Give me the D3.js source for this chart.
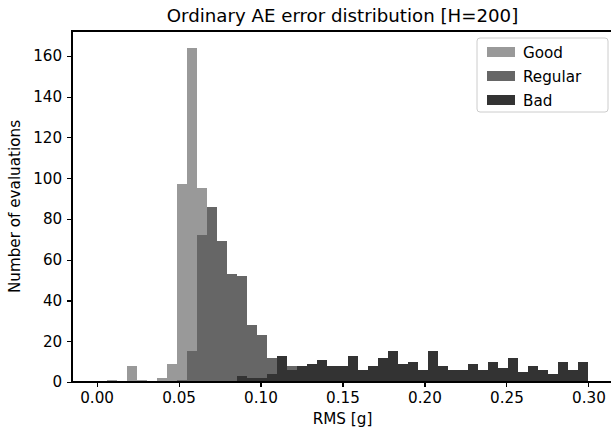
<!DOCTYPE html>
<html lang="en">
<head>
    <meta charset="UTF-8">
    <title>Ordinary AE error distribution</title>
    <script src="https://d3js.org/d3.v7.min.js"></script>
    <style>
        body { margin: 0; background: #fff; }
        text { font-family: "DejaVu Sans", sans-serif; fill: #000; }
        .axis path, .axis line { stroke: #000; shape-rendering: crispEdges; }
    </style>
</head>
<body>
    <svg width="611" height="435"></svg>

    <script>
        // Histogram bins: 49 equal bins between 0 and 0.3
        const binCount = 49;
        const binMax = 0.3;

        // Counts per bin, drawn in this order
        const goodCounts = [0, 1, 0, 8, 1, 0, 2, 9, 97, 164, 95, 0, 0, 0, 0, 0, 0, 0, 0, 0,
                            0, 0, 0, 0, 0, 0, 0, 0, 0, 0, 0, 0, 0, 0, 0, 0, 0, 0, 0, 0,
                            0, 0, 0, 0, 0, 0, 0, 0, 0];
        const regularCounts = [0, 0, 0, 0, 0, 0, 0, 0, 1, 15, 72, 86, 69, 53, 52, 28, 23, 12, 0, 8,
                               0, 0, 0, 0, 0, 0, 0, 0, 0, 0, 0, 0, 0, 0, 0, 0, 0, 0, 0, 0,
                               0, 0, 0, 0, 0, 0, 0, 0, 0];
        const badCounts = [0, 0, 0, 0, 0, 0, 0, 0, 0, 0, 0, 0, 0, 0, 3, 2, 2, 4, 13, 6,
                           8, 9, 11, 8, 8, 13, 6, 8, 12, 15, 9, 10, 6, 15, 8, 6, 6, 9, 6, 10,
                           7, 12, 5, 8, 6, 4, 10, 6, 10];

        const seriesNames = ["Good", "Regular", "Bad"];
        const seriesColors = ["#999999", "#666666", "#333333"];
        const seriesCounts = [goodCounts, regularCounts, badCounts];

        const xTicks = [0, 0.05, 0.10, 0.15, 0.20, 0.25, 0.30];
        const yTicks = [0, 20, 40, 60, 80, 100, 120, 140, 160];

        const edges = d3.range(binCount + 1).map(i => i * binMax / binCount);

        // Layout
        const margin = { top: 31, left: 72, right: 613, bottom: 382 };
        const fontSize = 15.2;

        const xScale = d3.scaleLinear()
            .domain([-0.015, 0.315])
            .range([margin.left, margin.right]);

        const yMax = d3.max(seriesCounts.flat()) * 1.05;
        const yScale = d3.scaleLinear()
            .domain([0, yMax])
            .range([margin.bottom, margin.top]);

        const svg = d3.select("svg");

        // Bars
        seriesCounts.forEach((counts, s) => {
            const bins = counts.map((c, i) => ({ x0: edges[i], x1: edges[i + 1], c }))
                .filter(d => d.c > 0);
            svg.append("g")
                .attr("shape-rendering", "crispEdges")
                .selectAll("rect")
                .data(bins)
                .join("rect")
                .attr("x", d => xScale(d.x0))
                .attr("width", d => xScale(d.x1) - xScale(d.x0))
                .attr("y", d => yScale(d.c))
                .attr("height", d => yScale(0) - yScale(d.c))
                .attr("fill", seriesColors[s]);
        });

        // Axes
        const xAxis = svg.append("g")
            .attr("class", "axis")
            .attr("transform", `translate(0, ${margin.bottom})`)
            .call(d3.axisBottom(xScale).tickValues(xTicks).tickFormat(d3.format(".2f"))
                .tickSize(4.9).tickPadding(4.9).tickSizeOuter(0));
        const yAxis = svg.append("g")
            .attr("class", "axis")
            .attr("transform", `translate(${margin.left}, 0)`)
            .call(d3.axisLeft(yScale).tickValues(yTicks)
                .tickSize(4.9).tickPadding(4.9).tickSizeOuter(0));
        [xAxis, yAxis].forEach(a => {
            a.select(".domain").remove();
            a.selectAll("line").attr("stroke-width", 1.1);
            a.selectAll("text").style("font-size", fontSize + "px")
                .style("font-family", "DejaVu Sans, sans-serif").attr("fill", "#000");
        });

        // Spines
        svg.append("rect")
            .attr("x", margin.left)
            .attr("y", margin.top)
            .attr("width", margin.right - margin.left)
            .attr("height", margin.bottom - margin.top)
            .attr("fill", "none")
            .attr("stroke", "#000")
            .attr("stroke-width", 1.1)
            .attr("shape-rendering", "crispEdges");

        // Title and labels
        svg.append("text")
            .attr("x", (margin.left + margin.right) / 2)
            .attr("y", 22)
            .attr("text-anchor", "middle")
            .style("font-size", "18.2px")
            .text("Ordinary AE error distribution [H=200]");

        svg.append("text")
            .attr("x", (margin.left + margin.right) / 2)
            .attr("y", 424)
            .attr("text-anchor", "middle")
            .style("font-size", fontSize + "px")
            .text("RMS [g]");

        svg.append("text")
            .attr("transform", `translate(20, ${(margin.top + margin.bottom) / 2}) rotate(-90)`)
            .attr("text-anchor", "middle")
            .style("font-size", fontSize + "px")
            .text("Number of evaluations");

        // Legend
        const legend = svg.append("g").attr("transform", "translate(477, 38)");
        legend.append("rect")
            .attr("width", 131)
            .attr("height", 74)
            .attr("rx", 3)
            .attr("fill", "#fff")
            .attr("fill-opacity", 0.8)
            .attr("stroke", "#cccccc")
            .attr("stroke-width", 1);
        seriesNames.forEach((name, i) => {
            const row = legend.append("g").attr("transform", `translate(0, ${14 + i * 24})`);
            row.append("rect")
                .attr("x", 10)
                .attr("y", -5)
                .attr("width", 28)
                .attr("height", 10)
                .attr("fill", seriesColors[i]);
            row.append("text")
                .attr("x", 46)
                .attr("y", 5.5)
                .style("font-size", fontSize + "px")
                .text(name);
        });
    </script>
</body>
</html>
